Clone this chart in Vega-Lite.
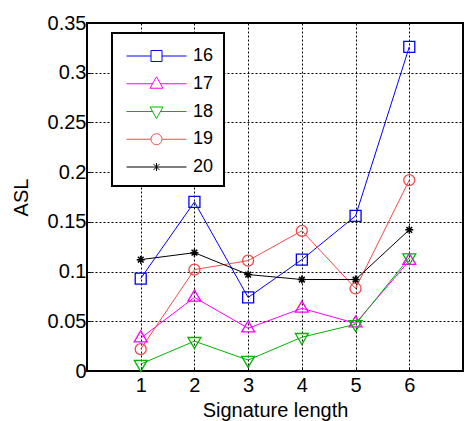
{
  "$schema": "https://vega.github.io/schema/vega-lite/v6.json",
  "autosize": "none",
  "width": 376,
  "height": 348,
  "padding": {"left": 87, "top": 23, "right": 2, "bottom": 50},
  "background": "white",
  "config": {
    "font": "Liberation Sans",
    "view": {"stroke": "black", "strokeWidth": 2},
    "axis": {
      "labelFont": "Liberation Sans",
      "labelFontSize": 20,
      "labelColor": "black",
      "titleFont": "Liberation Sans",
      "titleFontSize": 20,
      "titleFontWeight": "normal",
      "titleColor": "black",
      "domain": false,
      "grid": true,
      "gridColor": "black",
      "gridDash": [2, 2],
      "gridOpacity": 1,
      "gridWidth": 1,
      "tickColor": "black",
      "tickSize": -4,
      "tickWidth": 1
    }
  },
  "data": {
    "values": [
      {"len": 1, "asl": 0.093, "series": "16"},
      {"len": 2, "asl": 0.170, "series": "16"},
      {"len": 3, "asl": 0.074, "series": "16"},
      {"len": 4, "asl": 0.112, "series": "16"},
      {"len": 5, "asl": 0.156, "series": "16"},
      {"len": 6, "asl": 0.326, "series": "16"},
      {"len": 1, "asl": 0.033, "series": "17"},
      {"len": 2, "asl": 0.074, "series": "17"},
      {"len": 3, "asl": 0.043, "series": "17"},
      {"len": 4, "asl": 0.063, "series": "17"},
      {"len": 5, "asl": 0.048, "series": "17"},
      {"len": 6, "asl": 0.111, "series": "17"},
      {"len": 1, "asl": 0.007, "series": "18"},
      {"len": 2, "asl": 0.030, "series": "18"},
      {"len": 3, "asl": 0.011, "series": "18"},
      {"len": 4, "asl": 0.034, "series": "18"},
      {"len": 5, "asl": 0.047, "series": "18"},
      {"len": 6, "asl": 0.114, "series": "18"},
      {"len": 1, "asl": 0.022, "series": "19"},
      {"len": 2, "asl": 0.102, "series": "19"},
      {"len": 3, "asl": 0.111, "series": "19"},
      {"len": 4, "asl": 0.141, "series": "19"},
      {"len": 5, "asl": 0.083, "series": "19"},
      {"len": 6, "asl": 0.192, "series": "19"},
      {"len": 1, "asl": 0.112, "series": "20"},
      {"len": 2, "asl": 0.119, "series": "20"},
      {"len": 3, "asl": 0.097, "series": "20"},
      {"len": 4, "asl": 0.092, "series": "20"},
      {"len": 5, "asl": 0.092, "series": "20"},
      {"len": 6, "asl": 0.142, "series": "20"}
    ]
  },
  "encoding": {
    "x": {
      "field": "len",
      "type": "quantitative",
      "title": "Signature length",
      "scale": {"domain": [0, 7], "nice": false},
      "axis": {"values": [1, 2, 3, 4, 5, 6], "format": "d", "labelPadding": 8, "titlePadding": 5}
    },
    "y": {
      "field": "asl",
      "type": "quantitative",
      "title": "ASL",
      "scale": {"domain": [0, 0.35], "nice": false},
      "axis": {"values": [0, 0.05, 0.1, 0.15, 0.2, 0.25, 0.3, 0.35], "format": ".2~f", "labelPadding": 5, "titlePadding": 16}
    },
    "color": {
      "field": "series",
      "type": "nominal",
      "scale": {
        "domain": ["16", "17", "18", "19", "20"],
        "range": ["#0000ff", "#ff00ff", "#00b400", "#f24a4a", "#000000"]
      },
      "legend": {
        "title": null,
        "orient": "none",
        "legendX": 25,
        "legendY": 10,
        "padding": 10,
        "fillColor": "white",
        "strokeColor": "black",
        "labelFont": "Liberation Sans",
        "labelFontSize": 18,
        "labelColor": "black",
        "labelOffset": 53,
        "rowPadding": 5.75,
        "symbolSize": 100,
        "symbolStrokeWidth": 1,
        "symbolOpacity": 1,
        "encode": {
          "legend": {"update": {"strokeWidth": {"value": 2}}},
          "labels": {"update": {"dy": {"value": 4}}},
          "symbols": {
            "update": {
              "fill": {"value": "transparent"},
              "shape": {
                "signal": "datum.value == '16' ? 'M-0.9,0.8H4M6.2,0.8H11.1M4,-0.3H6.2V1.9H4Z' : datum.value == '17' ? 'M-0.9,0.8H4.31M5.89,0.8H11.1M5.1,-0.6L6.4,1.7L3.8,1.7Z' : datum.value == '18' ? 'M-0.9,0.8H4.31M5.89,0.8H11.1M3.8,-0.1L6.4,-0.1L5.1,2.2Z' : datum.value == '19' ? 'M-0.9,0.8H4M6.2,0.8H11.1M6.2,0.8A1.1,1.1,0,1,1,4,0.8A1.1,1.1,0,1,1,6.2,0.8' : 'M-0.9,0.8H11.1M5.1,0V1.6M4.53,0.23L5.67,1.37M4.53,1.37L5.67,0.23'"
              }
            }
          }
        }
      }
    }
  },
  "layer": [
    {"mark": {"type": "line", "strokeWidth": 1}},
    {
      "transform": [{"filter": {"field": "series", "equal": "16"}}],
      "mark": {"type": "point", "filled": false, "size": 121, "strokeWidth": 1.3, "opacity": 1, "shape": "square"}
    },
    {
      "transform": [{"filter": {"field": "series", "equal": "17"}}],
      "mark": {"type": "point", "filled": false, "size": 121, "strokeWidth": 1.3, "opacity": 1, "shape": "M0,-1.33L1.18,0.67L-1.18,0.67Z"}
    },
    {
      "transform": [{"filter": {"field": "series", "equal": "18"}}],
      "mark": {"type": "point", "filled": false, "size": 121, "strokeWidth": 1.3, "opacity": 1, "shape": "M0,1.33L1.18,-0.67L-1.18,-0.67Z"}
    },
    {
      "transform": [{"filter": {"field": "series", "equal": "19"}}],
      "mark": {"type": "point", "filled": false, "size": 121, "strokeWidth": 1.3, "opacity": 1, "shape": "circle"}
    },
    {
      "transform": [{"filter": {"field": "series", "equal": "20"}}],
      "mark": {"type": "point", "filled": false, "size": 121, "strokeWidth": 1.5, "opacity": 1, "shape": "M0,-0.73V0.73M-0.73,0H0.73M-0.52,-0.52L0.52,0.52M-0.52,0.52L0.52,-0.52"}
    }
  ]
}
